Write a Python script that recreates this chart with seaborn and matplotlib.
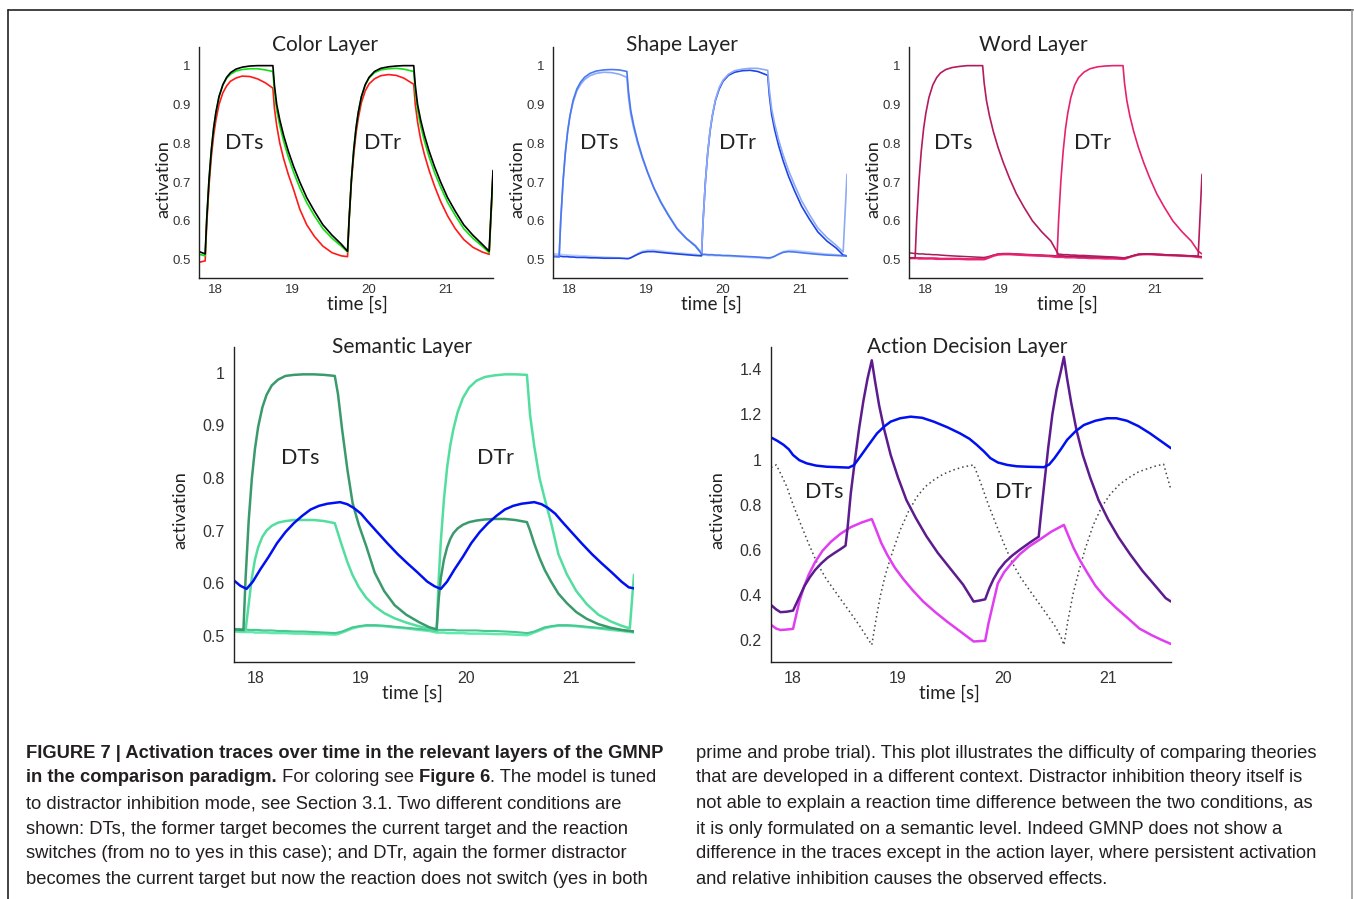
import matplotlib
matplotlib.use("Agg")
import matplotlib.pyplot as plt
import seaborn as sns
from matplotlib.lines import Line2D

# ---------------- data ----------------
# time grid shared by the three top panels
T_TOP = [17.78, 17.87, 17.89, 17.92, 17.95, 17.98, 18.01, 18.05, 18.10, 18.15, 18.20, 18.27, 18.35, 18.45,
         18.55, 18.65, 18.75, 18.77, 18.80, 18.84, 18.89, 18.95, 19.02, 19.10, 19.19, 19.29, 19.40, 19.52,
         19.64, 19.72,
         19.74, 19.77, 19.80, 19.83, 19.86, 19.90, 19.95, 20.00, 20.07, 20.15, 20.25, 20.35, 20.45, 20.58,
         20.60, 20.63, 20.67, 20.72, 20.78, 20.85, 20.93, 21.02, 21.12, 21.23, 21.35, 21.47, 21.56, 21.61]

# Color layer
color_black = [0.522, 0.515, 0.603, 0.706, 0.782, 0.839, 0.88, 0.92, 0.951, 0.97, 0.982, 0.991, 0.996, 0.999,
               1.0, 1.0, 1.0, 0.95, 0.90, 0.86, 0.82, 0.78, 0.74, 0.70, 0.66, 0.625, 0.59, 0.563, 0.54, 0.522,
               0.603, 0.706, 0.782, 0.839, 0.88, 0.92, 0.951, 0.97, 0.985, 0.993, 0.997, 0.999, 1.0, 1.0,
               0.95, 0.90, 0.86, 0.82, 0.78, 0.74, 0.70, 0.66, 0.625, 0.59, 0.563, 0.54, 0.522, 0.73]
color_green = [0.515, 0.51, 0.603, 0.706, 0.782, 0.839, 0.88, 0.92, 0.95, 0.968, 0.978, 0.986, 0.99, 0.992,
               0.992, 0.989, 0.985, 0.935, 0.885, 0.845, 0.805, 0.765, 0.725, 0.685, 0.647, 0.613, 0.58, 0.555,
               0.535, 0.52,
               0.603, 0.706, 0.782, 0.839, 0.88, 0.92, 0.95, 0.968, 0.982, 0.989, 0.992, 0.993, 0.991, 0.985,
               0.935, 0.885, 0.845, 0.805, 0.765, 0.725, 0.687, 0.648, 0.614, 0.58, 0.555, 0.535, 0.518, 0.72]
color_red = [0.493, 0.497, 0.59, 0.69, 0.765, 0.82, 0.86, 0.9, 0.93, 0.948, 0.96, 0.968, 0.973, 0.972, 0.966,
             0.956, 0.942, 0.89, 0.845, 0.80, 0.76, 0.72, 0.68, 0.63, 0.59, 0.56, 0.535, 0.518, 0.51, 0.508,
             0.6, 0.7, 0.77, 0.825, 0.865, 0.905, 0.935, 0.953, 0.966, 0.974, 0.977, 0.975, 0.968, 0.952,
             0.9, 0.855, 0.81, 0.77, 0.73, 0.69, 0.65, 0.613, 0.58, 0.552, 0.532, 0.52, 0.514, 0.72]

# Shape layer
shape_a = [0.508, 0.507, 0.6, 0.7, 0.775, 0.83, 0.87, 0.91, 0.94, 0.958, 0.97, 0.98, 0.986, 0.989, 0.99, 0.989,
           0.985, 0.935, 0.885, 0.845, 0.805, 0.765, 0.725, 0.685, 0.648, 0.614, 0.58, 0.555, 0.535, 0.515,
           0.514, 0.514, 0.513, 0.513, 0.513, 0.512, 0.512, 0.511, 0.511, 0.51, 0.509, 0.508, 0.507, 0.505,
           0.505, 0.506, 0.509, 0.514, 0.519, 0.521, 0.52, 0.518, 0.516, 0.514, 0.512, 0.511, 0.51, 0.51]
shape_b = [0.512, 0.51, 0.6, 0.7, 0.775, 0.83, 0.87, 0.905, 0.935, 0.952, 0.964, 0.974, 0.98, 0.983, 0.982,
           0.978, 0.97, 0.92, 0.875, 0.838, 0.8, 0.762, 0.724, 0.686, 0.65, 0.616, 0.582, 0.556, 0.537, 0.518,
           0.6, 0.7, 0.775, 0.832, 0.872, 0.912, 0.944, 0.963, 0.978, 0.987, 0.991, 0.993, 0.993, 0.988,
           0.94, 0.89, 0.85, 0.81, 0.77, 0.73, 0.692, 0.652, 0.617, 0.582, 0.557, 0.537, 0.52, 0.72]
shape_c = [0.51, 0.509, 0.509, 0.508, 0.508, 0.508, 0.507, 0.507, 0.506, 0.506, 0.506, 0.505, 0.505, 0.504,
           0.504, 0.504, 0.503, 0.503, 0.505, 0.509, 0.514, 0.519, 0.521, 0.521, 0.519, 0.517, 0.515, 0.513,
           0.511, 0.51,
           0.6, 0.7, 0.775, 0.83, 0.87, 0.91, 0.94, 0.96, 0.975, 0.983, 0.987, 0.988, 0.985, 0.975,
           0.925, 0.875, 0.835, 0.795, 0.755, 0.715, 0.677, 0.638, 0.605, 0.572, 0.548, 0.53, 0.512, 0.51]
shape_d = [0.516, 0.514, 0.514, 0.513, 0.513, 0.512, 0.512, 0.511, 0.511, 0.51, 0.51, 0.509, 0.508, 0.507,
           0.506, 0.505, 0.503, 0.503, 0.505, 0.51, 0.516, 0.522, 0.525, 0.525, 0.523, 0.52, 0.518, 0.516,
           0.514, 0.512,
           0.512, 0.512, 0.511, 0.511, 0.511, 0.51, 0.51, 0.51, 0.509, 0.508, 0.507, 0.506, 0.505, 0.503,
           0.503, 0.505, 0.509, 0.515, 0.521, 0.524, 0.524, 0.522, 0.52, 0.517, 0.515, 0.513, 0.511, 0.51]

# Word layer
word_1 = [0.505, 0.505, 0.6, 0.703, 0.78, 0.837, 0.878, 0.918, 0.95, 0.969, 0.981, 0.99, 0.995, 0.998, 1.0,
          1.0, 1.0, 0.955, 0.91, 0.87, 0.83, 0.79, 0.75, 0.71, 0.67, 0.635, 0.6, 0.572, 0.548, 0.52,
          0.514, 0.514, 0.513, 0.513, 0.513, 0.512, 0.512, 0.511, 0.511, 0.51, 0.509, 0.508, 0.507, 0.505,
          0.505, 0.506, 0.508, 0.511, 0.514, 0.515, 0.515, 0.514, 0.513, 0.512, 0.511, 0.51, 0.509, 0.72]
word_2 = [0.505, 0.505, 0.505, 0.505, 0.505, 0.504, 0.504, 0.504, 0.504, 0.504, 0.503, 0.503, 0.503, 0.503,
          0.502, 0.502, 0.502, 0.502, 0.504, 0.507, 0.511, 0.514, 0.515, 0.515, 0.514, 0.513, 0.512, 0.511,
          0.509, 0.508,
          0.6, 0.703, 0.78, 0.837, 0.878, 0.918, 0.95, 0.969, 0.983, 0.992, 0.997, 0.999, 1.0, 1.0,
          0.955, 0.91, 0.87, 0.83, 0.79, 0.75, 0.71, 0.67, 0.635, 0.6, 0.572, 0.548, 0.522, 0.515]
word_3 = [0.518, 0.516, 0.516, 0.515, 0.515, 0.515, 0.514, 0.514, 0.513, 0.513, 0.512, 0.511, 0.51, 0.509,
          0.508, 0.507, 0.506, 0.506, 0.507, 0.509, 0.512, 0.515, 0.516, 0.516, 0.515, 0.514, 0.513, 0.512,
          0.511, 0.51,
          0.51, 0.51, 0.51, 0.509, 0.509, 0.509, 0.509, 0.508, 0.508, 0.507, 0.507, 0.506, 0.506, 0.505,
          0.505, 0.506, 0.508, 0.511, 0.514, 0.515, 0.515, 0.514, 0.513, 0.512, 0.511, 0.51, 0.509, 0.508]
word_4 = [0.504, 0.504, 0.504, 0.503, 0.503, 0.503, 0.503, 0.503, 0.503, 0.502, 0.502, 0.502, 0.502, 0.502,
          0.501, 0.501, 0.501, 0.501, 0.503, 0.506, 0.51, 0.513, 0.514, 0.514, 0.513, 0.512, 0.511, 0.51,
          0.509, 0.507,
          0.507, 0.507, 0.507, 0.506, 0.506, 0.506, 0.506, 0.505, 0.505, 0.504, 0.504, 0.503, 0.503, 0.502,
          0.502, 0.504, 0.507, 0.51, 0.513, 0.514, 0.514, 0.513, 0.512, 0.511, 0.51, 0.509, 0.507, 0.506]

# Semantic layer
T_SEM = [17.79, 17.88, 17.90, 17.93, 17.96, 17.99, 18.02, 18.06, 18.10, 18.15, 18.21, 18.28, 18.36, 18.45,
         18.55, 18.65, 18.75, 18.78, 18.82, 18.87, 18.92, 18.98, 19.05, 19.13, 19.22, 19.32, 19.43, 19.55,
         19.65, 19.72,
         19.74, 19.76, 19.79, 19.82, 19.85, 19.88, 19.92, 19.97, 20.03, 20.10, 20.18, 20.27, 20.37, 20.47,
         20.58, 20.61, 20.65, 20.70, 20.75, 20.81, 20.88, 20.96, 21.05, 21.15, 21.26, 21.38, 21.48, 21.56,
         21.60]
sem_dark = [0.512, 0.511, 0.608, 0.719, 0.799, 0.856, 0.897, 0.934, 0.958, 0.976, 0.987, 0.994, 0.996, 0.997,
            0.997, 0.996, 0.994, 0.96, 0.892, 0.816, 0.752, 0.71, 0.67, 0.62, 0.585, 0.558, 0.54, 0.526,
            0.516, 0.512,
            0.57, 0.61, 0.645, 0.668, 0.684, 0.695, 0.704, 0.711, 0.716, 0.719, 0.721, 0.722, 0.722, 0.72,
            0.716, 0.70, 0.675, 0.648, 0.625, 0.603, 0.58, 0.562, 0.545, 0.532, 0.522, 0.515, 0.511, 0.509,
            0.508]
sem_light = [0.51, 0.509, 0.51, 0.56, 0.61, 0.645, 0.668, 0.688, 0.70, 0.709, 0.715, 0.718, 0.72, 0.72, 0.72,
             0.718, 0.714, 0.695, 0.67, 0.64, 0.615, 0.592, 0.572, 0.556, 0.543, 0.533, 0.525, 0.518, 0.513,
             0.509,
             0.608, 0.68, 0.76, 0.82, 0.862, 0.893, 0.925, 0.952, 0.972, 0.985, 0.992, 0.995, 0.997, 0.997,
             0.996, 0.92, 0.86, 0.80, 0.76, 0.715, 0.655, 0.617, 0.585, 0.56, 0.54, 0.527, 0.519, 0.514,
             0.616]
sem_low1 = [0.508, 0.507, 0.507, 0.507, 0.507, 0.506, 0.506, 0.506, 0.506, 0.505, 0.505, 0.505, 0.504, 0.504,
            0.503, 0.503, 0.502, 0.503, 0.506, 0.51, 0.514, 0.517, 0.519, 0.519, 0.518, 0.516, 0.514, 0.511,
            0.509, 0.506,
            0.506, 0.506, 0.506, 0.505, 0.505, 0.505, 0.505, 0.505, 0.504, 0.504, 0.504, 0.503, 0.503, 0.502,
            0.501, 0.503, 0.506, 0.51, 0.514, 0.517, 0.519, 0.519, 0.518, 0.516, 0.514, 0.511, 0.509, 0.507,
            0.506]
sem_low2 = [0.513, 0.512, 0.512, 0.511, 0.511, 0.511, 0.511, 0.51, 0.51, 0.51, 0.509, 0.509, 0.508, 0.508,
            0.507, 0.506, 0.505, 0.506, 0.508, 0.512, 0.516, 0.518, 0.52, 0.52, 0.519, 0.517, 0.515, 0.513,
            0.511, 0.509,
            0.511, 0.511, 0.511, 0.511, 0.511, 0.511, 0.51, 0.51, 0.51, 0.51, 0.509, 0.509, 0.508, 0.507,
            0.505, 0.506, 0.508, 0.512, 0.516, 0.518, 0.52, 0.52, 0.519, 0.517, 0.515, 0.513, 0.511, 0.509,
            0.508]
T_SEM_BLUE = [17.79, 17.85, 17.91, 17.97, 18.04, 18.12, 18.20, 18.28, 18.36, 18.44, 18.52, 18.60, 18.68, 18.80,
              18.87, 18.93, 19.00, 19.06, 19.15, 19.25, 19.35, 19.44, 19.54, 19.63, 19.70, 19.76, 19.82, 19.89,
              19.97, 20.05, 20.13, 20.21, 20.29, 20.37, 20.45, 20.53, 20.65, 20.72, 20.78, 20.85, 20.91, 21.00,
              21.10, 21.20, 21.29, 21.39, 21.48, 21.55, 21.60]
sem_blue = [0.605, 0.595, 0.589, 0.603, 0.626, 0.65, 0.676, 0.697, 0.714, 0.728, 0.74, 0.747, 0.751, 0.754,
            0.75, 0.743, 0.732, 0.718, 0.698, 0.676, 0.655, 0.638, 0.62, 0.603, 0.594, 0.589, 0.603, 0.626,
            0.65, 0.676, 0.697, 0.714, 0.728, 0.74, 0.747, 0.751, 0.754, 0.75, 0.743, 0.732, 0.718, 0.698,
            0.676, 0.655, 0.638, 0.62, 0.603, 0.592, 0.59]

# Action decision layer
T_PURPLE = [17.79, 17.84, 17.88, 17.94, 18.00, 18.03, 18.07, 18.11, 18.16, 18.21,
            18.27, 18.33, 18.39, 18.45, 18.50, 18.52, 18.55, 18.59, 18.63, 18.67,
            18.71, 18.75, 18.78, 18.82, 18.87, 18.93, 19.00, 19.08, 19.17, 19.27,
            19.38, 19.50, 19.62, 19.72, 19.78, 19.83, 19.87, 19.91, 19.96, 20.02,
            20.09, 20.16, 20.25, 20.34, 20.36, 20.39, 20.43, 20.47, 20.51, 20.55,
            20.58, 20.61, 20.65, 20.70, 20.76, 20.83, 20.91, 21.00, 21.10, 21.21,
            21.33, 21.45, 21.55, 21.60]
act_purple = [0.355, 0.335, 0.323, 0.325, 0.33, 0.36, 0.40, 0.44, 0.478, 0.51,
              0.54, 0.565, 0.584, 0.602, 0.618, 0.70, 0.85, 1.0, 1.14, 1.26,
              1.36, 1.44, 1.35, 1.24, 1.13, 1.02, 0.92, 0.82, 0.74, 0.66,
              0.585, 0.515, 0.445, 0.37, 0.375, 0.38, 0.43, 0.47, 0.51, 0.545,
              0.575, 0.60, 0.63, 0.658, 0.75, 0.88, 1.05, 1.2, 1.31, 1.39,
              1.455, 1.36, 1.25, 1.13, 1.02, 0.92, 0.82, 0.735, 0.655, 0.58,
              0.505, 0.44, 0.385, 0.37]
T_MAGENTA = [17.79, 17.84, 17.88, 17.94, 18.00, 18.03, 18.06, 18.10, 18.15, 18.21,
             18.28, 18.36, 18.45, 18.55, 18.65, 18.75, 18.79, 18.84, 18.90, 18.97,
             19.05, 19.14, 19.24, 19.35, 19.47, 19.60, 19.72, 19.83, 19.86, 19.90,
             19.95, 20.01, 20.08, 20.16, 20.25, 20.35, 20.46, 20.58, 20.62, 20.67,
             20.73, 20.80, 20.88, 20.97, 21.07, 21.18, 21.30, 21.42, 21.52, 21.60]
act_magenta = [0.267, 0.25, 0.244, 0.246, 0.249, 0.31, 0.37, 0.43, 0.49, 0.545,
               0.595, 0.635, 0.67, 0.70, 0.72, 0.736, 0.69, 0.63, 0.575, 0.52,
               0.47, 0.42, 0.37, 0.325, 0.28, 0.235, 0.193, 0.196, 0.27, 0.35,
               0.45, 0.50, 0.54, 0.58, 0.615, 0.645, 0.68, 0.71, 0.665, 0.61,
               0.555, 0.50, 0.44, 0.39, 0.345, 0.30, 0.25, 0.22, 0.198, 0.182]
T_ABLUE = [17.79, 17.85, 17.91, 17.96, 18.00, 18.06, 18.13, 18.22, 18.32, 18.43, 18.53, 18.58, 18.64, 18.72,
           18.80, 18.87, 18.93, 19.02, 19.12, 19.23, 19.34, 19.47, 19.59, 19.68, 19.75, 19.82, 19.88, 19.95,
           20.04, 20.13, 20.23, 20.32, 20.39, 20.44, 20.49, 20.55, 20.61, 20.69, 20.77, 20.88, 20.99, 21.08,
           21.18, 21.29, 21.40, 21.50, 21.60]
act_blue = [1.098, 1.083, 1.065, 1.045, 1.02, 0.997, 0.983, 0.973, 0.968, 0.966, 0.964, 0.975, 1.013, 1.065,
            1.116, 1.147, 1.168, 1.183, 1.19, 1.185, 1.168, 1.143, 1.116, 1.092, 1.065, 1.035, 1.006, 0.987,
            0.976, 0.97, 0.968, 0.967, 0.966, 0.978, 1.006, 1.045, 1.087, 1.125, 1.153, 1.172, 1.183, 1.183,
            1.172, 1.148, 1.116, 1.083, 1.05]
T_DOT = [17.79, 17.84, 17.89, 17.94, 18.00, 18.07, 18.15, 18.23, 18.31, 18.39,
         18.47, 18.55, 18.63, 18.70, 18.75, 18.79, 18.83, 18.88, 18.94, 19.02,
         19.10, 19.18, 19.26, 19.34, 19.43, 19.53, 19.62, 19.72, 19.76, 19.80,
         19.86, 19.93, 20.01, 20.09, 20.17, 20.25, 20.33, 20.41, 20.49, 20.55,
         20.58, 20.62, 20.67, 20.72, 20.78, 20.86, 20.94, 21.02, 21.11, 21.20,
         21.29, 21.38, 21.46, 21.53, 21.60]
act_dotted = [0.965, 0.976, 0.93, 0.88, 0.80, 0.717, 0.625, 0.54, 0.475, 0.422,
              0.37, 0.318, 0.265, 0.215, 0.178, 0.29, 0.392, 0.49, 0.58, 0.687,
              0.77, 0.835, 0.88, 0.909, 0.935, 0.954, 0.967, 0.976, 0.93, 0.88,
              0.80, 0.717, 0.625, 0.54, 0.475, 0.422, 0.37, 0.318, 0.265, 0.215,
              0.178, 0.29, 0.41, 0.50, 0.60, 0.71, 0.79, 0.845, 0.89, 0.92,
              0.945, 0.96, 0.972, 0.979, 0.865]

X_TICKS = [18, 19, 20, 21]
Y_TICKS_TOP = [0.5, 0.6, 0.7, 0.8, 0.9, 1.0]
Y_LABELS_TOP = ["0.5", "0.6", "0.7", "0.8", "0.9", "1"]
Y_TICKS_ACT = [0.2, 0.4, 0.6, 0.8, 1.0, 1.2, 1.4]
Y_LABELS_ACT = ["0.2", "0.4", "0.6", "0.8", "1", "1.2", "1.4"]

CAPTION_LEFT = [
    [("FIGURE 7 | Activation traces over time in the relevant layers of the GMNP", "bold")],
    [("in the comparison paradigm.", "bold"), (" For coloring see ", "normal"), ("Figure 6", "bold"),
     (". The model is tuned", "normal")],
    [("to distractor inhibition mode, see Section 3.1. Two different conditions are", "normal")],
    [("shown: DTs, the former target becomes the current target and the reaction", "normal")],
    [("switches (from no to yes in this case); and DTr, again the former distractor", "normal")],
    [("becomes the current target but now the reaction does not switch (yes in both", "normal")],
]
CAPTION_RIGHT = [
    "prime and probe trial). This plot illustrates the difficulty of comparing theories",
    "that are developed in a different context. Distractor inhibition theory itself is",
    "not able to explain a reaction time difference between the two conditions, as",
    "it is only formulated on a semantic level. Indeed GMNP does not show a",
    "difference in the traces except in the action layer, where persistent activation",
    "and relative inhibition causes the observed effects.",
]

# ---------------- drawing ----------------
sns.set_theme(style="white")
plt.rcParams["font.family"] = ["Liberation Sans", "DejaVu Sans"]

W, H = 1354, 899
fig = plt.figure(figsize=(W / 100, H / 100), dpi=100)

# full-figure helper axes in pixel units: frame lines and caption
bg = fig.add_axes([0, 0, 1, 1])
bg.set_xlim(0, W)
bg.set_ylim(H, 0)
bg.axis("off")
bg.add_line(Line2D([8, 1353], [10, 10], color="#222222", lw=1.2))
bg.add_line(Line2D([8, 8], [10, H], color="#222222", lw=1.2))
bg.add_line(Line2D([1352, 1352], [10, H], color="#999999", lw=1.2))

LABEL_FONT = ["Lato", "DejaVu Sans"]


def px_axes(left, right, top, bottom):
    return fig.add_axes([left / W, (H - bottom) / H, (right - left) / W, (bottom - top) / H])


def style(ax, title, tx, ty, xlim, ylim, yticks, ylabels, big):
    sns.despine(ax=ax)
    for s in ["left", "bottom"]:
        ax.spines[s].set_color("#222222")
        ax.spines[s].set_linewidth(1.0)
    ax.set_xlim(*xlim)
    ax.set_ylim(*ylim)
    ax.set_xticks(X_TICKS)
    ax.set_xticklabels([str(v) for v in X_TICKS])
    ax.set_yticks(yticks)
    ax.set_yticklabels(ylabels)
    ax.set_xlabel("")
    ax.set_ylabel("")
    ax.grid(False)
    tick_fs = 11.5 if big else 9.5
    ax.tick_params(axis="both", length=0, labelsize=tick_fs, labelcolor="#333333")
    ax.tick_params(axis="x", pad=6.5 if big else 4.5)
    ax.tick_params(axis="y", pad=6.5 if big else 6)
    ax.text(tx, ty, title, transform=ax.transAxes, ha="center", va="baseline",
            fontsize=15, color="#222222", family=LABEL_FONT)
    xl_x, xl_y = (0.445, -0.098) if big else (0.54, -0.113)
    ax.text(xl_x, xl_y, "time [s]", transform=ax.transAxes, ha="center", va="center",
            fontsize=13.5, color="#222222", family=LABEL_FONT)
    yl_x, yl_y = (-0.134, 0.483) if big else (-0.12, 0.428)
    ax.text(yl_x, yl_y, "activation", transform=ax.transAxes, rotation=90, ha="center",
            va="center", fontsize=13, color="#222222", family=LABEL_FONT)


def curve(ax, t, v, col, lw, **kw):
    sns.lineplot(x=t, y=v, ax=ax, color=col, linewidth=lw, estimator=None, **kw)


def dt_labels(ax, xs, y):
    ax.text(xs[0], y, "DTs", ha="center", va="center", fontsize=15.5, color="#222222", family=LABEL_FONT)
    ax.text(xs[1], y, "DTr", ha="center", va="center", fontsize=15.5, color="#222222", family=LABEL_FONT)


TOP_XLIM = (17.79, 21.61)
TOP_YLIM = (0.453, 1.048)

# Color layer
ax = px_axes(199, 493, 47, 278)
curve(ax, T_TOP, color_red, "#ff1a1a", 1.2)
curve(ax, T_TOP, color_green, "#10e010", 1.2)
curve(ax, T_TOP, color_black, "#000000", 1.2)
dt_labels(ax, (18.38, 20.17), 0.80)
style(ax, "Color Layer", 0.43, 0.983, TOP_XLIM, TOP_YLIM, Y_TICKS_TOP, Y_LABELS_TOP, False)

# Shape layer
ax = px_axes(553, 847, 47, 278)
curve(ax, T_TOP, shape_d, "#b8cefa", 1.2)
curve(ax, T_TOP, shape_c, "#1e44e6", 1.2)
curve(ax, T_TOP, shape_b, "#8caaf6", 1.2)
curve(ax, T_TOP, shape_a, "#4a78f0", 1.2)
dt_labels(ax, (18.39, 20.19), 0.80)
style(ax, "Shape Layer", 0.44, 0.983, TOP_XLIM, TOP_YLIM, Y_TICKS_TOP, Y_LABELS_TOP, False)

# Word layer
ax = px_axes(909, 1202, 47, 278)
curve(ax, T_TOP, word_4, "#f2287c", 1.6)
curve(ax, T_TOP, word_3, "#a01f55", 1.1)
curve(ax, T_TOP, word_2, "#e6226f", 1.2)
curve(ax, T_TOP, word_1, "#b41b5e", 1.2)
dt_labels(ax, (18.37, 20.18), 0.80)
style(ax, "Word Layer", 0.423, 0.983, TOP_XLIM, TOP_YLIM, Y_TICKS_TOP, Y_LABELS_TOP, False)

# Semantic layer
BOT_XLIM = (17.79, 21.60)
ax = px_axes(234, 634, 347, 662)
curve(ax, T_SEM, sem_low1, "#62eaae", 1.8)
curve(ax, T_SEM, sem_low2, "#48c890", 1.5)
curve(ax, T_SEM, sem_light, "#52de9e", 1.8)
curve(ax, T_SEM, sem_dark, "#3a9a6c", 1.8)
curve(ax, T_SEM_BLUE, sem_blue, "#0010f0", 1.8)
dt_labels(ax, (18.42, 20.28), 0.838)
style(ax, "Semantic Layer", 0.42, 0.981, BOT_XLIM, (0.45, 1.049), Y_TICKS_TOP, Y_LABELS_TOP, True)

# Action decision layer
ax = px_axes(771, 1171, 347, 662)
curve(ax, T_DOT, act_dotted, "#444444", 1.1, linestyle=(0, (1, 2)))
curve(ax, T_MAGENTA, act_magenta, "#e03ef0", 1.8)
curve(ax, T_PURPLE, act_purple, "#5c1c8e", 1.8)
curve(ax, T_ABLUE, act_blue, "#0010f0", 1.8)
dt_labels(ax, (18.30, 20.10), 0.856)
style(ax, "Action Decision Layer", 0.49, 0.981, BOT_XLIM, (0.102, 1.499), Y_TICKS_ACT, Y_LABELS_ACT, True)

# ---------------- caption ----------------
CAP_FONT = ["Liberation Sans", "DejaVu Sans"]
CAP_FS = 13.2
LINE_Y = [753, 778, 804, 829, 854, 879]

for y, parts in zip(LINE_Y, CAPTION_LEFT):
    txt, wt = parts[0]
    prev = bg.text(26, y, txt, fontweight=wt, fontsize=CAP_FS, family=CAP_FONT, color="#231f20",
                   ha="left", va="center")
    for txt, wt in parts[1:]:
        prev = bg.annotate(txt, xy=(1, 0), xycoords=prev, ha="left", va="bottom", fontweight=wt,
                           fontsize=CAP_FS, family=CAP_FONT, color="#231f20")

for y, line in zip(LINE_Y, CAPTION_RIGHT):
    bg.text(696, y, line, fontsize=CAP_FS, family=CAP_FONT, color="#231f20", ha="left", va="center")

fig.savefig("out.png", dpi=100)
